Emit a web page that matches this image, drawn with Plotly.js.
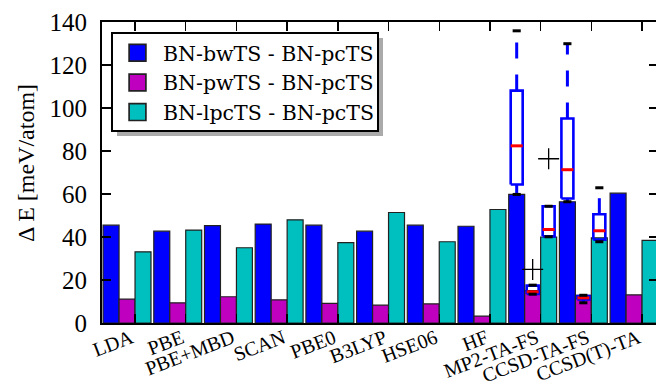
<!DOCTYPE html>
<html>
<head>
<meta charset="utf-8">
<script src="https://cdn.plot.ly/plotly-3.0.1.min.js"></script>
<style>
html,body{margin:0;padding:0;overflow:hidden;background:#fff;}
#chart{width:658px;height:388px;}
</style>
</head>
<body>
<div id="chart"></div>
<script>
// ---- data ----
var categories = ['LDA','PBE','PBE+MBD','SCAN','PBE0','B3LYP','HSE06','HF','MP2-TA-FS','CCSD-TA-FS','CCSD(T)-TA'];
var seriesNames = ['BN-bwTS - BN-pcTS','BN-pwTS - BN-pcTS','BN-lpcTS - BN-pcTS'];
var bwTS  = [45.5, 42.7, 45.3, 46.0, 45.5, 42.7, 45.5, 45.0, 59.8, 56.4, 60.4];
var pwTS  = [11.1,  9.4, 12.2, 10.8,  9.1,  8.3,  8.9,  3.2, 15.1, 12.9, 13.1];
var lpcTS = [33.1, 43.2, 35.0, 48.0, 37.4, 51.4, 37.8, 52.8, 40.0, 39.6, 38.4];

// box-plot statistics (categories with spread)
var boxCategories = ['MP2-TA-FS','CCSD-TA-FS'];
var bwMin  = [59.8, 56.4],  bwQ1  = [64.4, 57.9],  bwMed  = [82.4, 71.3],  bwQ3  = [108.1, 95.1], bwMax  = [135.9, 129.9];
var pwMin  = [13.4,  9.4],  pwQ1  = [13.5, 10.9],  pwMed  = [14.5, 11.7],  pwQ3  = [17.4, 12.5],  pwMax  = [17.6, 12.9];
var lpcMin = [40.1, 37.8],  lpcQ1 = [40.3, 38.8],  lpcMed = [43.5, 42.9],  lpcQ3 = [54.3, 50.6],  lpcMax = [54.3, 62.9];
// outliers
var outlierCategories = ['MP2-TA-FS','MP2-TA-FS'];
var outlierSeries = [1, 2];
var outlierValues = [24.9, 76.4];

var yTicks = [0,20,40,60,80,100,120,140];

// ---- styling / geometry ----
var colors = ['#0000ff','#bf00bf','#00bfbf'];
var barW = 0.315;
var offsets = [-barW, 0, barW];   // centers relative to category index
var boxHalf = 0.118, capHalf = 0.08;
var idx = categories.map(function(c,i){return i;});

var traces = [];
[bwTS,pwTS,lpcTS].forEach(function(vals,s){
  traces.push({
    type:'bar', x: idx, y: vals, name: seriesNames[s],
    width: barW, offset: offsets[s]-barW/2,
    marker:{color: colors[s], line:{color:'#222', width:1.2}},
    hoverinfo:'skip'
  });
});

var boxes = [
  {s:0, mn:bwMin,  q1:bwQ1,  md:bwMed,  q3:bwQ3,  mx:bwMax},
  {s:1, mn:pwMin,  q1:pwQ1,  md:pwMed,  q3:pwQ3,  mx:pwMax},
  {s:2, mn:lpcMin, q1:lpcQ1, md:lpcMed, q3:lpcQ3, mx:lpcMax}
];
var upX=[],upY=[],loX=[],loY=[],bxX=[],bxY=[],mdX=[],mdY=[],cpX=[],cpY=[];
boxes.forEach(function(b){
  boxCategories.forEach(function(c,k){
    var xc = categories.indexOf(c) + offsets[b.s];
    upX.push(xc,xc,null); upY.push(b.q3[k],b.mx[k],null);
    loX.push(xc,xc,null); loY.push(b.q1[k],b.mn[k],null);
    bxX.push(xc-boxHalf,xc+boxHalf,xc+boxHalf,xc-boxHalf,xc-boxHalf,null);
    bxY.push(b.q1[k],b.q1[k],b.q3[k],b.q3[k],b.q1[k],null);
    mdX.push(xc-boxHalf,xc+boxHalf,null); mdY.push(b.md[k],b.md[k],null);
    cpX.push(xc-capHalf,xc+capHalf,null,xc-capHalf,xc+capHalf,null);
    cpY.push(b.mn[k],b.mn[k],null,b.mx[k],b.mx[k],null);
  });
});
traces.push({type:'scatter',mode:'lines',x:upX,y:upY,line:{color:'#0000ff',width:3,dash:'16px,16px'},showlegend:false,hoverinfo:'skip'});
traces.push({type:'scatter',mode:'lines',x:loX,y:loY,line:{color:'#0000ff',width:3},showlegend:false,hoverinfo:'skip'});
traces.push({type:'scatter',mode:'lines',x:bxX,y:bxY,line:{color:'#0000ff',width:2.6},showlegend:false,hoverinfo:'skip'});
traces.push({type:'scatter',mode:'lines',x:mdX,y:mdY,line:{color:'#ff0000',width:3},showlegend:false,hoverinfo:'skip'});
traces.push({type:'scatter',mode:'lines',x:cpX,y:cpY,line:{color:'#000000',width:3},showlegend:false,hoverinfo:'skip'});
traces.push({type:'scatter',mode:'markers',
  x: outlierCategories.map(function(c,k){return categories.indexOf(c)+offsets[outlierSeries[k]];}),
  y: outlierValues,
  marker:{symbol:'cross-thin-open',size:15,color:'#000',line:{color:'#000',width:1.3}},
  showlegend:false,hoverinfo:'skip'});

var serif = '"Liberation Serif", "Times New Roman", Times, serif';
var legendSerif = '"DejaVu Serif", serif';
var layout = {
  width:658, height:388,
  margin:{l:102,r:0,t:22,b:65},
  paper_bgcolor:'#fff', plot_bgcolor:'#fff',
  font:{family:serif,color:'#000'},
  showlegend:true,
  barmode:'overlay',
  xaxis:{
    type:'linear', range:[-0.494,10.472],
    tickmode:'array', tickvals: idx.map(function(i){return i+barW/2;}), ticktext: categories,
    tickangle:-21, ticks:'inside', ticklen:9, tickwidth:1.5, tickcolor:'#000',
    showline:true, linecolor:'#000', linewidth:2, mirror:'ticks',
    showgrid:false, zeroline:false,
    tickfont:{family:serif,size:20,color:'#000'},
    ticklabelstandoff:-6, ticklabelshift:-4
  },
  yaxis:{
    range:[0,140], tickmode:'array', tickvals:yTicks,
    ticks:'inside', ticklen:9, tickwidth:1.5, tickcolor:'#000',
    showline:true, linecolor:'#000', linewidth:2, mirror:'ticks',
    showgrid:false, zeroline:false,
    tickfont:{family:serif,size:25,color:'#000'},
    ticklabelstandoff:8
  },
  legend:{
    x:0.018, y:0.9635, xanchor:'left', yanchor:'top',
    bgcolor:'rgba(0,0,0,0)', borderwidth:0,
    font:{family:legendSerif,size:20.5,color:'#000'},
    itemwidth:41
  },
  shapes:[
    {type:'rect',xref:'paper',yref:'paper',x0:0.02698,x1:0.5054,y0:0.62126,y1:0.94684,
     fillcolor:'#aaaaaa',line:{width:0},layer:'above'},
    {type:'rect',xref:'paper',yref:'paper',x0:0.01799,x1:0.4964,y0:0.63787,y1:0.96346,
     fillcolor:'#ffffff',line:{width:2,color:'#000'},layer:'above'}
  ],
  annotations:[{text:'Δ E [meV/atom]',xref:'paper',yref:'paper',x:-0.1367,y:0.5316,
    xanchor:'center',yanchor:'middle',textangle:-90,showarrow:false,
    font:{family:serif,size:24,color:'#000'}}]
};
Plotly.newPlot('chart',traces,layout,{staticPlot:true,displayModeBar:false}).then(function(gd){
  // enlarge legend swatches to match the reference's larger squares
  gd.querySelectorAll('.legend .legendpoints path').forEach(function(p){
    var t = p.getAttribute('transform') || '';
    p.setAttribute('transform', t + ' scale(1.4)');
  });
});
</script>
</body>
</html>
